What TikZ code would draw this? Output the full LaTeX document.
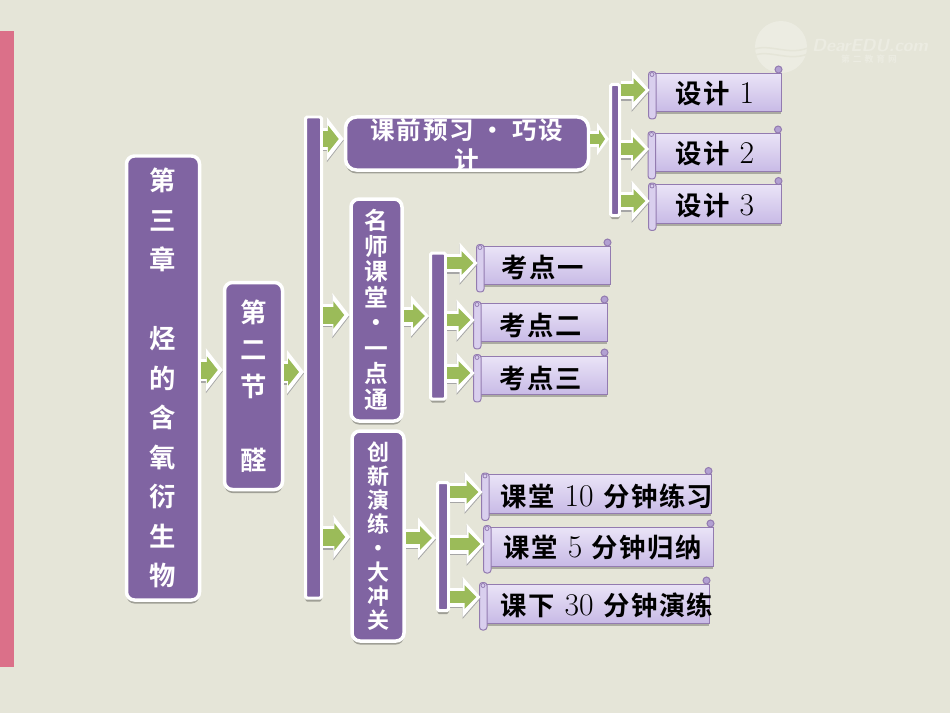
\documentclass[tikz,border=0pt]{standalone}
\usepackage{fontspec}
\usetikzlibrary{arrows.meta,shadows}
\newfontfamily\cjk[LetterSpace=6]{Noto Sans CJK SC Bold}
\newcommand{\bk}[1]{{\cjk\fontsize{15}{18}\selectfont #1}}
\definecolor{pagebg}{HTML}{E5E5D8}
\definecolor{stripcol}{HTML}{DB7089}
\definecolor{boxpurple}{HTML}{8064A2}
\definecolor{arrowgreen}{HTML}{9BBB59}
\definecolor{scrolltop}{HTML}{EAE4F7}
\definecolor{scrollbot}{HTML}{C8BAE6}
\definecolor{markcol}{HTML}{ECECE2}
\tikzset{
  boxshadow/.style={drop shadow={shadow xshift=0cm,shadow yshift=-.07cm,opacity=.3,fill=black}},
  purplebox/.style={boxshadow,draw=white,fill=boxpurple,line width=.07cm,rounded corners=.16cm,inner sep=0pt,text=white,align=center},
  purplebar/.style={boxshadow,draw=white,fill=boxpurple,line width=.06cm,rounded corners=.03cm,inner sep=0pt},
  flowarrow/.style={draw=arrowgreen,line width=.34cm,-{Triangle[length=.22cm,width=.54cm]},shorten >=.1cm,
    preaction={draw=black!35,transform canvas={yshift=-.03cm},line width=.44cm,-{Triangle[length=.34cm,width=.86cm]},shorten >=0cm},
    preaction={draw=white,line width=.44cm,-{Triangle[length=.34cm,width=.86cm]},shorten >=0cm}},
  thinarrow/.style={draw=arrowgreen,line width=.24cm,-{Triangle[length=.24cm,width=.46cm]},shorten >=.08cm,
    preaction={draw=black!35,transform canvas={yshift=-.03cm},line width=.38cm,-{Triangle[length=.36cm,width=.8cm]},shorten >=0cm},
    preaction={draw=white,line width=.38cm,-{Triangle[length=.36cm,width=.8cm]},shorten >=0cm}},
  smallarrow/.style={draw=arrowgreen,line width=.22cm,-{Triangle[length=.12cm,width=.36cm]},shorten >=.08cm,
    preaction={draw=white,line width=.32cm,-{Triangle[length=.24cm,width=.64cm]},shorten >=0cm}},
  scrollbody/.style={drop shadow={shadow xshift=0cm,shadow yshift=-.05cm,opacity=.25,fill=black},draw=boxpurple!85,top color=scrolltop,bottom color=scrollbot,line width=.02cm,minimum height=.78cm,inner sep=0pt},
  scrollroll/.style={draw=boxpurple!85,fill=scrollbot!50!scrolltop,line width=.02cm,rounded corners=.06cm},
  scrollcurl/.style={draw=boxpurple!85,fill=scrollbot!70!boxpurple,line width=.02cm},
  blacktext/.style={font=\fontsize{18}{20}\selectfont,text=black,inner sep=0pt},
}
% scroll: name, centre x, centre y, width
\newcommand{\scrollbox}[4]{
  \node[scrollbody,minimum width=#4*.02cm] (#1) at (#2,#3) {};
  \draw[scrollcurl] ([xshift=-.06cm,yshift=.06cm]#1.north east) circle (.07cm);
  \draw[scrollroll] ([xshift=-.02cm,yshift=.02cm]#1.north west) rectangle ([xshift=.13cm,yshift=-.13cm]#1.south west);
  \draw[boxpurple!85,line width=.015cm] ([xshift=.05cm,yshift=-.04cm]#1.north west) circle (.04cm);
}
\begin{document}
\begin{tikzpicture}[x=.02cm,y=-.02cm]
  \fill[pagebg] (0,0) rectangle (950,713);
  \useasboundingbox (0,0) rectangle (950,713);
  \fill[stripcol] (0,31) rectangle (14,667);
  % watermark
  \fill[markcol] (781,47) circle (.52cm);
  \draw[pagebg,line width=.03cm] (752,50) .. controls (770,42) and (790,58) .. (812,46);
  \draw[pagebg,line width=.03cm] (752,56) .. controls (770,48) and (790,64) .. (812,52);
  \node[text=markcol,font=\sffamily\bfseries\itshape\fontsize{10}{12}\selectfont,inner sep=0pt] (markname) at (870,46) {DearEDU.com};
  \node[text=markcol,font=\fontsize{5}{5}\selectfont,inner sep=0pt] (marksub) at (869,59) {\cjk 第\,\,二\,\,教\,\,育\,\,网};

  \node[purplebox,minimum width=73*.02cm,minimum height=444*.02cm,font=\cjk\fontsize{15}{22.5}\selectfont] (chapter) at (163,378)
    {第\\三\\章\\~\\烃\\的\\含\\氧\\衍\\生\\物};
  \node[purplebox,minimum width=58*.02cm,minimum height=207*.02cm,font=\cjk\fontsize{15}{21}\selectfont] (section) at (253.5,386)
    {第\\二\\节\\~\\醛};
  \node[purplebar,minimum width=16*.02cm,minimum height=481*.02cm] (mainbar) at (313.5,357.5) {};

  \node[purplebox,minimum width=243*.02cm,minimum height=53*.02cm,rounded corners=.22cm] (pill) at (467,143.5) {};
  \node[text=white,align=center,inner sep=0pt,font=\cjk\fontsize{14}{17}\selectfont] (pilltext) at (467,145) {课前预习 · 巧设\\计};
  \node[purplebox,minimum width=51*.02cm,minimum height=222*.02cm,font=\cjk\fontsize{13.5}{14.5}\selectfont] (teacher) at (376.5,310)
    {名\\师\\课\\堂\\·\\一\\点\\通};
  \node[purplebox,minimum width=52*.02cm,minimum height=210*.02cm,font=\cjk\fontsize{12.5}{13.7}\selectfont] (practice) at (378,536)
    {创\\新\\演\\练\\·\\大\\冲\\关};

  \node[purplebar,minimum width=9*.02cm,minimum height=131*.02cm] (barA) at (615,150) {};
  \node[purplebar,minimum width=15*.02cm,minimum height=146*.02cm] (barB) at (438,326) {};
  \node[purplebar,minimum width=11*.02cm,minimum height=128*.02cm] (barC) at (443,546.5) {};

  \scrollbox{designA}{715.5}{92.5}{131}
  \scrollbox{designB}{715}{152.5}{131}
  \scrollbox{designC}{715.5}{204}{131}
  \scrollbox{pointA}{544}{265.5}{132}
  \scrollbox{pointB}{541}{322.5}{132}
  \scrollbox{pointC}{541}{375.5}{132}
  \scrollbox{classA}{597}{494}{228}
  \scrollbox{classB}{599}{546.5}{228}
  \scrollbox{classC}{595}{603.5}{228}

  \node[blacktext] (designAtext) at (715,94) {\bk{设计} 1};
  \node[blacktext] (designBtext) at (715,154) {\bk{设计} 2};
  \node[blacktext] (designCtext) at (715,206) {\bk{设计} 3};
  \node[blacktext] (pointAtext) at (543,267) {\bk{考点一}};
  \node[blacktext] (pointBtext) at (541,325) {\bk{考点二}};
  \node[blacktext] (pointCtext) at (541,378) {\bk{考点三}};
  \node[blacktext] (classAtext) at (607,496) {\bk{课堂} 10 \bk{分钟练习}};
  \node[blacktext] (classBtext) at (603,548) {\bk{课堂} 5 \bk{分钟归纳}};
  \node[blacktext] (classCtext) at (607,605) {\bk{课下} 30 \bk{分钟演练}};

  \draw[flowarrow] (chapter.east |- 0,370) -- (section.west |- 0,370);
  \draw[flowarrow] (section.east |- 0,372) -- (mainbar.west |- 0,372);
  \draw[flowarrow] (mainbar.east |- 0,139) -- (pill.west |- 0,139);
  \draw[flowarrow] (mainbar.east |- 0,315) -- (teacher.west |- 0,315);
  \draw[flowarrow] (mainbar.east |- 0,537) -- (practice.west |- 0,537);
  \draw[smallarrow] (pill.east |- 0,139) -- (barA.west |- 0,139);
  \draw[thinarrow] (barA.east |- 0,90) -- (designA.west |- 0,90);
  \draw[thinarrow] (barA.east |- 0,149) -- (designB.west |- 0,149);
  \draw[thinarrow] (barA.east |- 0,201) -- (designC.west |- 0,201);
  \draw[thinarrow] (teacher.east |- 0,316) -- (barB.west |- 0,316);
  \draw[thinarrow] (barB.east |- 0,263) -- (pointA.west |- 0,263);
  \draw[thinarrow] (barB.east |- 0,320) -- (pointB.west |- 0,320);
  \draw[thinarrow] (barB.east |- 0,373) -- (pointC.west |- 0,373);
  \draw[thinarrow] (practice.east |- 0,538) -- (barC.west |- 0,538);
  \draw[thinarrow] (barC.east |- 0,492) -- (classA.west |- 0,492);
  \draw[thinarrow] (barC.east |- 0,544) -- (classB.west |- 0,544);
  \draw[thinarrow] (barC.east |- 0,597) -- (classC.west |- 0,597);
\end{tikzpicture}
\end{document}
